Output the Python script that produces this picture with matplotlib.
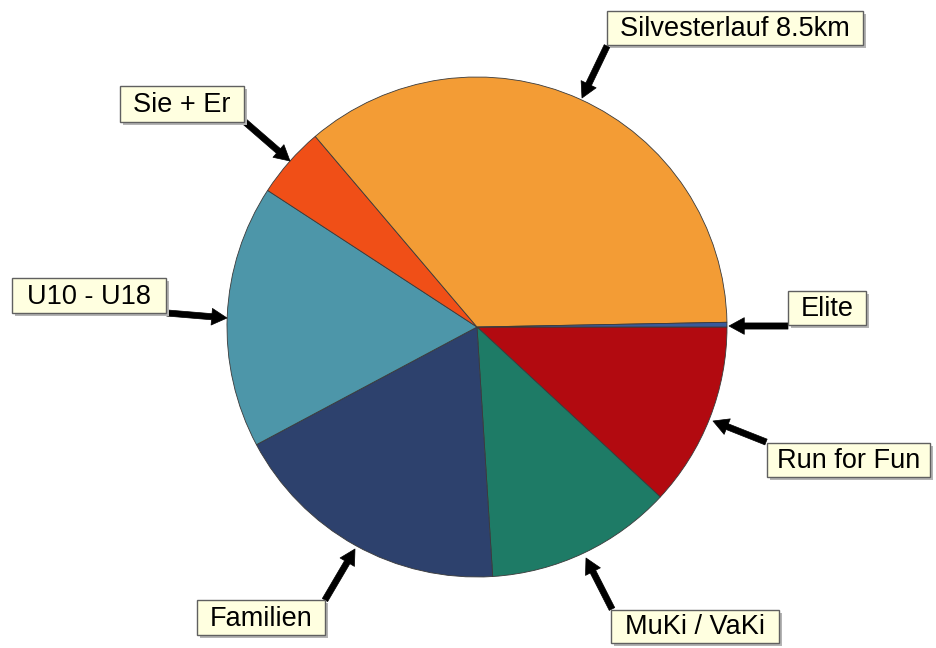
import matplotlib
matplotlib.use("Agg")
import matplotlib.pyplot as plt
from matplotlib.patches import Rectangle

# participants per category
labels = ["Run for Fun", "MuKi / VaKi", "Familien", "U10 - U18", "Sie + Er",
          "Silvesterlauf 8.5km", "Elite"]
values = [119, 121, 182, 170, 46, 359, 3]
colors = ["#B20A10", "#1E7B66", "#2D416D", "#4D96A9", "#F04F17", "#F39C35", "#3A5A9A"]

W, H = 936, 648

# label box (left, top, right, bottom), arrow tail, arrow tip (image pixels, y down)
label_pos = {
    "Silvesterlauf 8.5km": ((607, 11, 863, 45), (607, 46), (582, 98)),
    "Elite": ((788, 291, 866, 325), (788, 326), (729, 326)),
    "Sie + Er": ((120, 86, 244, 122), (245, 122), (290, 161)),
    "U10 - U18": ((12, 278, 166, 313), (167, 313), (227, 318)),
    "Familien": ((197, 600, 325, 635), (325, 600), (355, 549)),
    "MuKi / VaKi": ((611, 610, 779, 643), (612, 609), (586, 558)),
    "Run for Fun": ((767, 443, 930, 477), (766, 442), (713, 421)),
}

plt.rcParams['font.family'] = ['Liberation Sans', 'DejaVu Sans']

fig = plt.figure(figsize=(W / 100, H / 100), dpi=100)
ax = fig.add_axes([0, 0, 1, 1])

ax.pie(values, colors=colors, startangle=0, counterclock=False,
       center=(477, H - 327), radius=250,
       wedgeprops=dict(edgecolor='#3a3a3a', linewidth=0.6))
ax.set_xlim(0, W)
ax.set_ylim(0, H)
ax.set_aspect('equal')
ax.axis('off')

for lab in labels:
    (l, t, r, b), (tx, ty), (hx, hy) = label_pos[lab]
    ax.annotate('', xy=(hx, H - hy), xytext=(tx, H - ty),
                arrowprops=dict(arrowstyle='simple,head_length=0.55,head_width=0.6,tail_width=0.22',
                                fc='black', ec='black', lw=0.5, shrinkA=0, shrinkB=0,
                                mutation_scale=20))
    # shadow + box
    ax.add_patch(Rectangle((l + 3, H - b - 3), r - l, b - t, fc='#b4b4b4', ec='none', zorder=3))
    ax.add_patch(Rectangle((l, H - b), r - l, b - t, fc='#FFFFE0', ec='#606060', lw=1, zorder=4))
    ax.text((l + r) / 2, H - (t + b) / 2 - 1, lab, fontsize=19.5, ha='center', va='center',
            color='black', zorder=5)

fig.savefig('out.png', dpi=100)
